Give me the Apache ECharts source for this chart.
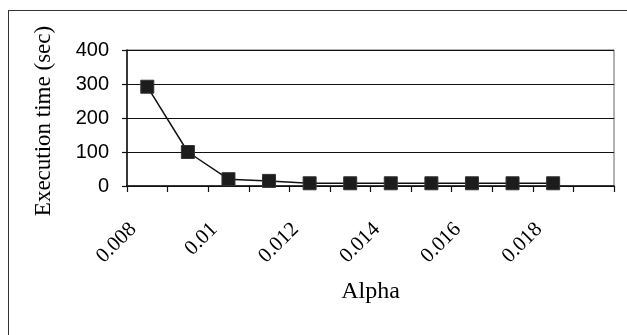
<!DOCTYPE html>
<html>
<head>
<meta charset="utf-8">
<script src="https://cdn.jsdelivr.net/npm/echarts@6/dist/echarts.min.js"></script>
<style>
  html, body { margin: 0; padding: 0; background: #fff; }
  #frame { position: absolute; left: 8px; top: 10px; width: 619px; height: 325px;
           border-top: 1.5px solid #333; border-left: 1.5px solid #333; }
  #chart { position: absolute; left: 0; top: 0; width: 627px; height: 335px; }
</style>
</head>
<body>
<div id="frame"></div>
<div id="chart"></div>
<script>
const categories = ['0.008','0.009','0.01','0.011','0.012','0.013','0.014','0.015','0.016','0.017','0.018','0.019'];
const execTime = [292, 100, 20, 15, 8, 8, 8, 8, 8, 8, 8, null];
const yTicks = { min: 0, max: 400, interval: 100 };

const chart = echarts.init(document.getElementById('chart'), null, { renderer: 'canvas' });
chart.setOption({
  backgroundColor: 'transparent',
  animation: false,
  grid: { left: 127, right: 13, top: 50, bottom: 149, show: true, borderColor: '#666', borderWidth: 1 },
  xAxis: {
    type: 'category',
    data: categories,
    boundaryGap: true,
    name: 'Alpha',
    nameLocation: 'middle',
    nameGap: 94,
    nameTextStyle: { fontFamily: 'Liberation Serif', fontSize: 24, color: '#000' },
    axisLine: { lineStyle: { color: '#111', width: 1.5 } },
    axisTick: { show: true, interval: 0, length: 6, lineStyle: { color: '#111', width: 1.2 } },
    axisLabel: {
      interval: 1, rotate: 45, margin: 26, padding: [0, 20, 0, 0],
      fontFamily: 'Liberation Serif', fontSize: 21, color: '#000'
    },
    splitLine: { show: false }
  },
  yAxis: {
    type: 'value',
    min: yTicks.min, max: yTicks.max, interval: yTicks.interval,
    name: 'Execution time (sec)',
    nameLocation: 'middle',
    nameGap: 72,
    nameTextStyle: { fontFamily: 'Liberation Serif', fontSize: 23, color: '#000', padding: [0, 6, 0, 0] },
    axisLine: { show: true, lineStyle: { color: '#111', width: 1.5 } },
    axisTick: { show: true, length: 5, lineStyle: { color: '#111', width: 1.2 } },
    axisLabel: { margin: 18, fontFamily: 'Liberation Sans', fontSize: 20, color: '#000' },
    splitLine: { show: true, lineStyle: { color: '#111', width: 1.2 } }
  },
  series: [{
    type: 'line',
    data: execTime,
    symbol: 'rect',
    symbolSize: 13,
    connectNulls: false,
    itemStyle: { color: '#1c1c1c', borderColor: '#333', borderWidth: 1 },
    lineStyle: { color: '#111', width: 1.5 }
  }]
});
</script>
</body>
</html>
